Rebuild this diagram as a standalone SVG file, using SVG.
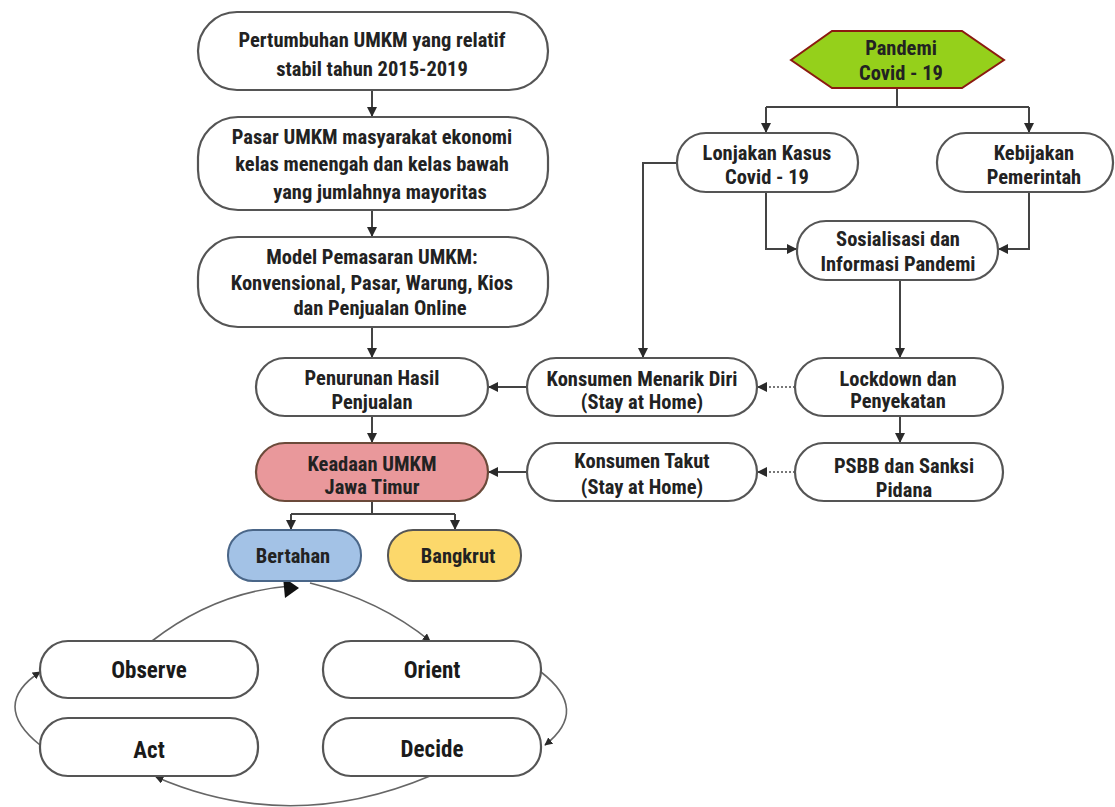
<svg xmlns="http://www.w3.org/2000/svg" width="1115" height="807" viewBox="0 0 1115 807">
<defs>
<marker id="ah" viewBox="0 0 10 10" refX="9" refY="5" markerWidth="5" markerHeight="5" orient="auto"><path d="M0,0 L10,5 L0,10 z" fill="#2a2a2a"/></marker>
</defs>
<style>
.n{fill:#fff;stroke:#555;stroke-width:2.2}
.t{font-family:"Liberation Sans Narrow","Roboto Condensed","Liberation Sans",sans-serif;font-stretch:condensed;font-weight:bold;font-size:20.5px;fill:#222;text-anchor:middle}
.b{font-size:23px;fill:#1a1a1a}
.c{fill:none;stroke:#444;stroke-width:2}
.d{fill:none;stroke:#777;stroke-width:2;stroke-dasharray:2 2}
.cy{fill:none;stroke:#666;stroke-width:1.6}
</style>
<g id="connectors">
<path class="c" d="M372,90 V116" marker-end="url(#ah)"/>
<path class="c" d="M372,210 V236" marker-end="url(#ah)"/>
<path class="c" d="M372,327 V357" marker-end="url(#ah)"/>
<path class="c" d="M372,416 V442" marker-end="url(#ah)"/>
<path class="c" d="M372,501 V514 M291,514 H455"/>
<path class="c" d="M291,514 V529" marker-end="url(#ah)"/>
<path class="c" d="M455,514 V529" marker-end="url(#ah)"/>
<path class="c" d="M897,88 V107 M766,107 H1029"/>
<path class="c" d="M766,107 V132" marker-end="url(#ah)"/>
<path class="c" d="M1029,107 V132" marker-end="url(#ah)"/>
<path class="c" d="M766,192 V249 H796" marker-end="url(#ah)"/>
<path class="c" d="M1029,192 V249 H999" marker-end="url(#ah)"/>
<path class="c" d="M677,163 H643 V357" marker-end="url(#ah)"/>
<path class="c" d="M900,280 V357" marker-end="url(#ah)"/>
<path class="c" d="M900,416 V442" marker-end="url(#ah)"/>
<path class="d" d="M795,387 H758" marker-end="url(#ah)"/>
<path class="d" d="M795,472 H758" marker-end="url(#ah)"/>
<path class="c" d="M527,387 H489" marker-end="url(#ah)"/>
<path class="c" d="M527,472 H489" marker-end="url(#ah)"/>
<path class="cy" d="M152,641 Q215,592 290,586"/>
<path d="M283,577 L299,588 L285,598 z" fill="#111"/>
<path class="cy" d="M310,583 Q380,600 430,641" marker-end="url(#ah)"/>
<path class="cy" d="M541,672 Q590,710 545,745" marker-end="url(#ah)"/>
<path class="cy" d="M430,776 Q290,835 156,777" marker-end="url(#ah)"/>
<path class="cy" d="M40,745 Q-10,705 40,672" marker-end="url(#ah)"/>
</g>
<g id="n1"><rect class="n" x="198" y="12" width="350" height="78" rx="39"/><text class="t" x="372" y="47">Pertumbuhan UMKM yang relatif</text><text class="t" x="372" y="76">stabil tahun 2015-2019</text></g>
<g id="n2"><rect class="n" x="198" y="117" width="350" height="93" rx="40"/><text class="t" x="372" y="144">Pasar UMKM masyarakat ekonomi</text><text class="t" x="372" y="171">kelas menengah dan kelas bawah</text><text class="t" x="380" y="199">yang jumlahnya mayoritas</text></g>
<g id="n3"><rect class="n" x="198" y="237" width="350" height="90" rx="40"/><text class="t" x="372" y="264">Model Pemasaran UMKM:</text><text class="t" x="372" y="290">Konvensional, Pasar, Warung, Kios</text><text class="t" x="380" y="315">dan Penjualan Online</text></g>
<g id="n4"><rect class="n" x="256" y="358" width="232" height="58" rx="29"/><text class="t" x="372" y="385">Penurunan Hasil</text><text class="t" x="372" y="409">Penjualan</text></g>
<g id="n5"><rect x="256" y="443" width="232" height="58" rx="29" fill="#e9989b" stroke="#6b4a3a" stroke-width="2.2"/><text class="t" x="372" y="471">Keadaan UMKM</text><text class="t" x="372" y="494">Jawa Timur</text></g>
<g id="bertahan"><rect x="228" y="530" width="133" height="51" rx="25" fill="#a3c2e6" stroke="#4a6688" stroke-width="2"/><text class="t" x="293" y="563">Bertahan</text></g>
<g id="bangkrut"><rect x="388" y="530" width="133" height="51" rx="25" fill="#fcd86b" stroke="#555" stroke-width="2"/><text class="t" x="458" y="563">Bangkrut</text></g>
<g id="observe"><rect class="n" x="40" y="641" width="218" height="57" rx="28" stroke-width="1.6"/><text class="t b" x="149" y="678">Observe</text></g>
<g id="orient"><rect class="n" x="323" y="641" width="218" height="57" rx="28" stroke-width="1.6"/><text class="t b" x="432" y="678">Orient</text></g>
<g id="act"><rect class="n" x="40" y="718" width="218" height="58" rx="28" stroke-width="1.6"/><text class="t b" x="149" y="758">Act</text></g>
<g id="decide"><rect class="n" x="323" y="718" width="218" height="58" rx="28" stroke-width="1.6"/><text class="t b" x="432" y="757">Decide</text></g>
<g id="pandemi"><polygon points="791,60 832,31 962,31 1004,60 962,88 832,88" fill="#95d01b" stroke="#8b1a10" stroke-width="2"/><text class="t" x="901" y="55">Pandemi</text><text class="t" x="901" y="80">Covid - 19</text></g>
<g id="lonjakan"><rect class="n" x="677" y="133" width="181" height="59" rx="29"/><text class="t" x="767" y="160">Lonjakan Kasus</text><text class="t" x="767" y="184">Covid - 19</text></g>
<g id="kebijakan"><rect class="n" x="937" y="133" width="176" height="59" rx="29"/><text class="t" x="1034" y="160">Kebijakan</text><text class="t" x="1034" y="184">Pemerintah</text></g>
<g id="sosialisasi"><rect class="n" x="797" y="221" width="201" height="59" rx="29"/><text class="t" x="898" y="246">Sosialisasi dan</text><text class="t" x="898" y="271">Informasi Pandemi</text></g>
<g id="menarik"><rect class="n" x="527" y="358" width="230" height="58" rx="29"/><text class="t" x="642" y="386">Konsumen Menarik Diri</text><text class="t" x="642" y="409">(Stay at Home)</text></g>
<g id="lockdown"><rect class="n" x="795" y="358" width="208" height="58" rx="29"/><text class="t" x="898" y="386">Lockdown dan</text><text class="t" x="898" y="408">Penyekatan</text></g>
<g id="takut"><rect class="n" x="527" y="443" width="230" height="58" rx="29"/><text class="t" x="642" y="468">Konsumen Takut</text><text class="t" x="642" y="494">(Stay at Home)</text></g>
<g id="psbb"><rect class="n" x="795" y="443" width="208" height="58" rx="29"/><text class="t" x="904" y="473">PSBB dan Sanksi</text><text class="t" x="904" y="497">Pidana</text></g>
</svg>
